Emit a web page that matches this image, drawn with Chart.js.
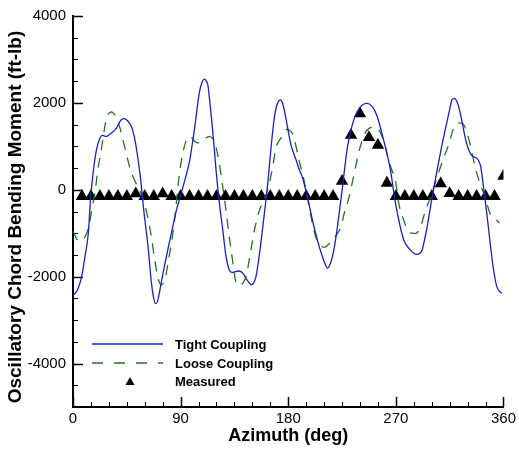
<!DOCTYPE html>
<html>
<head>
<meta charset="utf-8">
<script src="https://cdn.jsdelivr.net/npm/chart.js@4/dist/chart.umd.min.js"></script>
<style>
  body { margin: 0; background: #fff; }
  canvas { display: block; }
</style>
</head>
<body>
<canvas id="chart" width="519" height="451"></canvas>
<script>
// Tight coupling (solid blue)
const tightAz = [0, 2, 4.4, 7.2, 10, 12.8, 14.7, 17, 19.7, 22, 24.4, 26, 28, 30, 32.2, 36.4, 39, 40.5, 42.5, 44.7,
  47, 48.9, 51, 53, 56.4, 59.2, 62.8, 65.6, 67.5, 68.9, 70.5, 71.9, 74, 76.7, 79.5, 82.2, 86.4, 89.2, 93.3, 97.5,
  100, 101.7, 103.7, 105.8, 108, 110, 111.5, 112.8, 114.5, 116.1, 118, 119.7, 122.5, 125.3, 128, 130.8, 133, 135, 138, 140.6,
  143, 144.7, 147, 149.4, 151, 153, 154.8, 156.7, 160, 162.8, 165.6, 168.3, 170, 171.7, 173.5, 175.3, 178, 180, 182.2, 184,
  186.4, 189, 191.9, 196.1, 200.3, 204.4, 208.6, 211, 212.8, 214.5, 216.9, 219, 221.1, 225.3, 229.4, 233.6, 237.8, 241.9, 246.1, 250.3,
  254.4, 258.6, 262.8, 265.6, 268.9, 272.5, 276.7, 282.2, 285, 287.8, 290, 291.9, 294, 296.1, 300.3, 304.4, 308.6, 312.8, 315, 316.9,
  319.2, 321, 322.5, 325.3, 328, 330.5, 332.8, 335, 337.8, 339.5, 341.1, 343.3, 346.1, 348.9, 351.7, 354.4, 356.5, 358.6];
const tightMoment = [-2420, -2380, -2260, -2000, -1540, -1000, -200, 430, 930, 1150, 1250, 1240, 1230, 1260, 1310, 1420, 1560, 1620, 1640, 1610,
  1540, 1450, 1250, 960, 280, -480, -1320, -2150, -2500, -2620, -2580, -2420, -2100, -1730, -1350, -1010, -480, -200, 200, 660,
  1100, 1420, 1850, 2260, 2480, 2546, 2500, 2410, 2000, 1570, 1000, 430, -330, -935, -1540, -1850, -1900, -1890, -1870, -1885,
  -1960, -2040, -2130, -2190, -2150, -2000, -1700, -1315, -555, 130, 965, 1650, 1900, 2030, 2068, 1990, 1650, 1350, 1040, 880,
  700, 480, 280, -175, -707, -1163, -1543, -1720, -1808, -1750, -1543, -1250, -860, 50, 965, 1500, 1800, 1953, 1990, 1915,
  1687, 1270, 800, 433, -175, -707, -1163, -1390, -1460, -1489, -1460, -1390, -1150, -860, -175, 433, 1042, 1573, 1850, 2068,
  2105, 2030, 1915, 1573, 1193, 950, 814, 760, 723, 650, 508, 53, -555, -1239, -1847, -2228, -2330, -2379];

// Loose coupling (dashed green)
const looseAz = [0, 3, 5.5, 8, 11, 13.5, 16, 18.5, 20.6, 23.9, 26, 28, 30, 32, 34, 37, 40, 42, 45, 47.5,
  51, 54.5, 58, 61, 63, 65.6, 68, 71.1, 73.9, 76, 78, 80, 82.2, 84, 85.8, 88.6, 91.9, 94.5, 97.5, 100,
  101.7, 104, 107, 110, 114.2, 116, 118.3, 122, 125.3, 128, 130.3, 133, 135.8, 137.8, 140, 141.9, 144.7, 148.3, 151.7, 155.8,
  159.4, 163.3, 166.9, 169.7, 173.9, 176, 179, 182, 184, 189.2, 193.3, 197.5, 200.3, 203, 206, 208.6, 211, 212.8, 216, 220,
  224, 226.7, 230.8, 235, 239.2, 244.2, 248, 251, 254, 255.8, 258, 260, 262.8, 266, 269.7, 272.5, 276.7, 280.8, 283.5, 286.4,
  288.5, 290.6, 294.7, 298.9, 304.4, 310, 314.2, 318.3, 321, 323.5, 326.7, 329.5, 332.2, 336.4, 340.6, 344.7, 348.9, 351, 353.1, 356.7];
const looseMoment = [-950, -1130, -1180, -1150, -1030, -800, -420, -50, 430, 965, 1350, 1650, 1760, 1790, 1760, 1620, 1350, 1120, 780, 510,
  250, 50, -150, -450, -700, -1090, -1550, -2030, -2190, -2120, -1920, -1600, -1240, -900, -480, 280, 850, 1120, 1231, 1180,
  1117, 1080, 1100, 1170, 1231, 1200, 1117, 661, 53, -479, -1010, -1543, -2075, -2189, -2210, -2150, -2000, -1466, -935, -479,
  -251, 53, 508, 965, 1193, 1300, 1390, 1350, 1270, 661, 205, -403, -783, -1087, -1250, -1315, -1320, -1277, -1200, -1050,
  -859, -555, -175, 357, 889, 1307, 1420, 1440, 1420, 1383, 1250, 1117, 814, 500, 205, -326, -707, -973, -1000, -1010,
  -960, -859, -479, -175, 281, 737, 1042, 1420, 1520, 1540, 1497, 1300, 1042, 508, 129, -175, -555, -630, -668, -768];

// Measured (triangles)
const measuredAz = [7.5, 15, 22.5, 30, 37.5, 45, 52.5, 60, 67.5, 75, 82.5, 90, 97.5, 105, 112.5, 120,
  127.5, 135, 142.5, 150, 157.5, 165, 172.5, 180, 187.5, 195, 202.5, 210, 217.5, 225, 232.5, 240,
  247.5, 255, 262.5, 270, 277.5, 285, 292.5, 300, 307.5, 315, 322.5, 330, 337.5, 345, 352.5, 360];
const measuredMoment = [-150, -150, -150, -150, -150, -150, -90, -150, -150, -90, -150, -150, -150, -150, -150, -150,
  -150, -150, -150, -150, -150, -150, -150, -150, -150, -150, -150, -150, -150, 200, 1255, 1750,
  1205, 1030, 155, -150, -150, -150, -150, -150, 140, -85, -150, -150, -150, -150, -150, 315];

// Axis ticks
const xTicks = [0, 90, 180, 270, 360];
const yTicks = [-4000, -2000, 0, 2000, 4000];

const seriesNames = ['Tight Coupling', 'Loose Coupling', 'Measured'];
const blue = '#1e1ec8';
const green = '#237323';

function toPoints(xs, ys) {
    return xs.map((v, i) => ({ x: v, y: ys[i] }));
}

// Inward tick marks (major + minor)
const axisTicks = {
    id: 'axisTicks',
    beforeDatasetsDraw(chart) {
        const { ctx, chartArea: a, scales: { x, y } } = chart;
        ctx.save();
        ctx.strokeStyle = '#000';
        for (let v = 0; v <= 360; v += 15) {
            const major = xTicks.includes(v);
            const px = Math.round(x.getPixelForValue(v)) + 0.5;
            ctx.lineWidth = major ? 1.5 : 1;
            ctx.beginPath();
            ctx.moveTo(px, a.bottom);
            ctx.lineTo(px, a.bottom - (major ? 10 : 5));
            ctx.stroke();
        }
        for (let v = -5000; v <= 4000; v += 500) {
            const major = yTicks.includes(v);
            const py = Math.round(y.getPixelForValue(v)) + 0.5;
            ctx.lineWidth = major ? 1.5 : 1;
            ctx.beginPath();
            ctx.moveTo(a.left, py);
            ctx.lineTo(a.left + (major ? 10 : 5), py);
            ctx.stroke();
        }
        ctx.restore();
    }
};

// Axis titles and legend box drawn inside the plot
const titlesAndLegend = {
    id: 'titlesAndLegend',
    afterDraw(chart) {
        const { ctx, chartArea: a } = chart;
        ctx.save();
        ctx.fillStyle = '#000';
        ctx.font = 'bold 18px "Liberation Sans", Arial, sans-serif';
        ctx.textAlign = 'center';
        ctx.textBaseline = 'middle';
        ctx.fillText('Azimuth (deg)', (a.left + a.right) / 2, 436);

        ctx.font = 'bold 19px "Liberation Sans", Arial, sans-serif';
        ctx.translate(16, 217);
        ctx.rotate(-Math.PI / 2);
        ctx.fillText('Oscillatory Chord Bending Moment (ft-lb)', 0, 0);
        ctx.restore();

        // legend
        ctx.save();
        ctx.lineWidth = 1.3;
        ctx.strokeStyle = blue;
        ctx.beginPath();
        ctx.moveTo(92, 344);
        ctx.lineTo(163, 344);
        ctx.stroke();

        ctx.strokeStyle = green;
        ctx.setLineDash([11, 11]);
        ctx.beginPath();
        ctx.moveTo(92, 363);
        ctx.lineTo(163, 363);
        ctx.stroke();
        ctx.setLineDash([]);

        ctx.fillStyle = '#000';
        ctx.beginPath();
        ctx.moveTo(130, 377);
        ctx.lineTo(134.5, 385);
        ctx.lineTo(125.5, 385);
        ctx.closePath();
        ctx.fill();

        ctx.font = 'bold 13px "Liberation Sans", Arial, sans-serif';
        ctx.textAlign = 'left';
        ctx.textBaseline = 'middle';
        ctx.fillText(seriesNames[0], 175, 345);
        ctx.fillText(seriesNames[1], 175, 364);
        ctx.fillText(seriesNames[2], 175, 382);
        ctx.restore();
    }
};

const tickFont = { family: '"Liberation Sans", Arial, sans-serif', size: 15 };

new Chart(document.getElementById('chart'), {
    type: 'line',
    data: {
        datasets: [
            {
                label: seriesNames[0],
                data: toPoints(tightAz, tightMoment),
                borderColor: blue,
                borderWidth: 1.3,
                pointRadius: 0,
                cubicInterpolationMode: 'monotone'
            },
            {
                label: seriesNames[1],
                data: toPoints(looseAz, looseMoment),
                borderColor: green,
                borderWidth: 1.3,
                borderDash: [10, 8],
                pointRadius: 0,
                cubicInterpolationMode: 'monotone'
            },
            {
                label: seriesNames[2],
                data: toPoints(measuredAz, measuredMoment),
                showLine: false,
                pointStyle: 'triangle',
                pointRadius: 7.2,
                pointBackgroundColor: '#000',
                pointBorderWidth: 0,
                pointBorderColor: '#000'
            }
        ]
    },
    options: {
        responsive: false,
        animation: false,
        devicePixelRatio: 1,
        layout: { padding: { top: 14, right: 14, left: 0, bottom: 0 } },
        plugins: {
            legend: { display: false },
            tooltip: { enabled: false }
        },
        scales: {
            x: {
                type: 'linear',
                min: 0,
                max: 360,
                afterFit: s => { s.height = 44; },
                afterBuildTicks: s => { s.ticks = xTicks.map(v => ({ value: v })); },
                ticks: {
                    color: '#000',
                    padding: 3,
                    maxRotation: 0,
                    font: tickFont,
                    callback: v => String(v)
                },
                grid: { display: false, drawTicks: false },
                border: { display: true, color: '#000', width: 2 }
            },
            y: {
                type: 'linear',
                min: -5000,
                max: 4000,
                afterFit: s => { s.width = 73; },
                afterBuildTicks: s => { s.ticks = yTicks.map(v => ({ value: v })); },
                ticks: {
                    color: '#000',
                    padding: 7,
                    font: tickFont,
                    callback: v => String(v)
                },
                grid: { display: false, drawTicks: false },
                border: { display: true, color: '#000', width: 2 }
            }
        }
    },
    plugins: [axisTicks, titlesAndLegend]
});
</script>
</body>
</html>
